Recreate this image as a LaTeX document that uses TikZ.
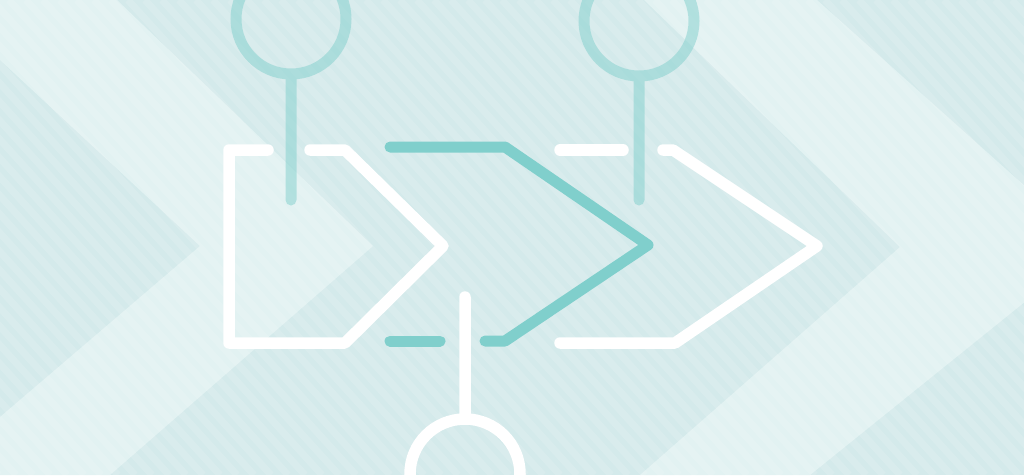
\documentclass[tikz,border=0pt]{standalone}
\definecolor{bgbase}{HTML}{D4EAEB}
\definecolor{bgband}{HTML}{E2F2F2}
\definecolor{tealdark}{HTML}{80CFCC}
\tikzset{
  wline/.style={draw=white, line width=11.5pt, line cap=round, line join=round},
  tline/.style={draw=tealdark, line width=11pt, line cap=round, line join=round},
  pinline/.style={draw=tealdark, draw opacity=0.5, line width=11pt, line cap=round},
  wpin/.style={draw=white, line width=11.5pt, line cap=round},
  band/.style={fill=bgband},
  stripe/.style={draw=white, draw opacity=0.13, line width=7pt},
}
\begin{document}
\begin{tikzpicture}[x=1pt,y=-1pt]
\useasboundingbox (0,0) rectangle (1024,475);
\clip (0,0) rectangle (1024,475);
% background
\fill[bgbase] (0,0) rectangle (1024,475);
\fill[band] (0,0) -- (117,0) -- (373,246) -- (110,475) -- (0,475) -- (0,417) -- (200,246) -- (0,60) -- cycle;
\fill[band] (644,0) -- (817,0) -- (1093,247) -- (810,475) -- (640,475) -- (900,247) -- cycle;
\foreach \i in {-450,-433,...,1040} \draw[stripe] (\i,0) -- ++(432,475);
% coordinates
\coordinate (c1) at (291,19);
\coordinate (c1b) at (291,74);
\coordinate (s1) at (291,200);
\coordinate (c2) at (639,21);
\coordinate (c2b) at (639,76);
\coordinate (s2) at (639,200);
\coordinate (c3) at (465,474);
\coordinate (c3t) at (465,419);
\coordinate (s3) at (465,297);
\coordinate (A1) at (310,150);
\coordinate (A2) at (345,150);
\coordinate (A3) at (443,246);
\coordinate (A4) at (345,343);
\coordinate (A5) at (229,343);
\coordinate (A6) at (229,150);
\coordinate (A7) at (268,150);
\coordinate (T1) at (390,147);
\coordinate (T2) at (505,147);
\coordinate (T3) at (648,245);
\coordinate (T4) at (505,341);
\coordinate (T5) at (485,341);
\coordinate (T6) at (390,341);
\coordinate (T7) at (440,341);
\coordinate (R1) at (560,150);
\coordinate (R2) at (623,150);
\coordinate (R3) at (663,150);
\coordinate (R4) at (673,150);
\coordinate (R5) at (817,246);
\coordinate (R6) at (675,343);
\coordinate (R7) at (560,343);
% light teal pins
\draw[pinline] (c1) circle[radius=55pt] (c1b) -- (s1);
\draw[pinline] (c2) circle[radius=55pt] (c2b) -- (s2);
% dark teal chevron
\draw[tline] (T1) -- (T2) -- (T3) -- (T4) -- (T5);
\draw[tline] (T6) -- (T7);
% white shapes
\draw[wline] (A1) -- (A2) -- (A3) -- (A4) -- (A5) -- (A6) -- (A7);
\draw[wline] (R1) -- (R2);
\draw[wline] (R3) -- (R4) -- (R5) -- (R6) -- (R7);
\draw[wpin] (c3) circle[radius=55pt] (c3t) -- (s3);
\end{tikzpicture}
\end{document}
